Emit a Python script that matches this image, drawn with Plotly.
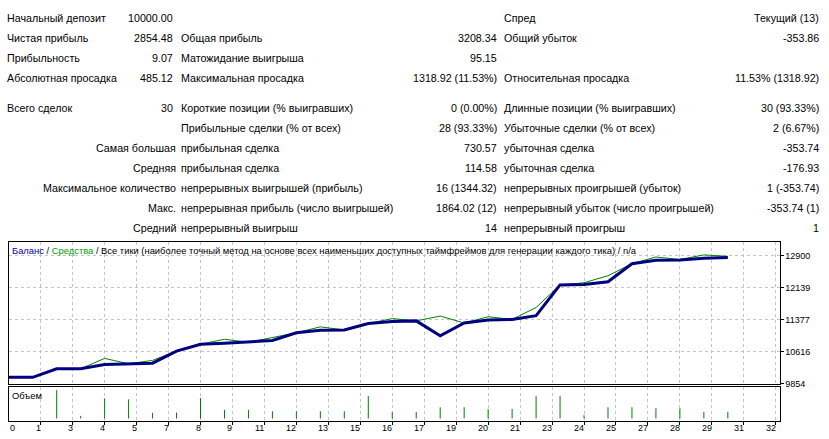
import plotly.graph_objects as go

W, H = 829, 439

# ---------------- data ----------------
trade_no = list(range(31))
balance = [10000.00, 9999.88, 10204, 10206, 10307, 10324, 10338, 10626, 10787, 10811,
           10835, 10876, 11061, 11123, 11128, 11282, 11330, 11344.20, 10990.46, 11294,
           11363, 11378, 11469, 12199.57, 12210, 12275, 12705, 12785, 12795, 12835, 12854.48]
equity = [10000.00, 9999.88, 10204, 10206, 10451, 10324, 10403, 10626, 10787, 10907,
          10835, 10943, 11061, 11202, 11128, 11282, 11399, 11344.20, 11459, 11294,
          11442, 11378, 11663, 12199.57, 12251, 12419, 12705, 12864, 12805, 12914, 12880]
vol_trades = list(range(2, 31))
volumes = [0.86, 0.08, 0.61, 0.58, 0.17, 0.18, 0.62, 0.26, 0.26, 0.22, 0.22, 0.22, 0.22,
           0.68, 0.19, 0.20, 0.34, 0.34, 0.29, 0.29, 0.68, 0.68, 0.10, 0.34, 0.34, 0.31,
           0.31, 0.20, 0.20]
x_tick_text = ["0", "1", "3", "4", "5", "7", "8", "9", "11", "12", "13", "15", "16",
               "17", "19", "20", "21", "23", "24", "25", "27", "28", "29", "31", "32"]
y_tick_vals = [9854, 10616, 11377, 12139, 12900]

# statistics table (11 rows)
c1_labels = ["Начальный депозит", "Чистая прибыль", "Прибыльность", "Абсолютная просадка",
             "Всего сделок", None, None, None, None, None, None]
c1_rlabels = [None, None, None, None, None, None, "Самая большая", "Средняя",
              "Максимальное количество", "Макс.", "Средний"]
c1_values = ["10000.00", "2854.48", "9.07", "485.12", "30", None, None, None, None, None, None]
c2_labels = [None, "Общая прибыль", "Матожидание выигрыша", "Максимальная просадка",
             "Короткие позиции (% выигравших)", "Прибыльные сделки (% от всех)",
             "прибыльная сделка", "прибыльная сделка", "непрерывных выигрышей (прибыль)",
             "непрерывная прибыль (число выигрышей)", "непрерывный выигрыш"]
c2_values = [None, "3208.34", "95.15", "1318.92 (11.53%)", "0 (0.00%)", "28 (93.33%)",
             "730.57", "114.58", "16 (1344.32)", "1864.02 (12)", "14"]
c3_labels = ["Спред", "Общий убыток", None, "Относительная просадка",
             "Длинные позиции (% выигравших)", "Убыточные сделки (% от всех)",
             "убыточная сделка", "убыточная сделка", "непрерывных проигрышей (убыток)",
             "непрерывный убыток (число проигрышей)", "непрерывный проигрыш"]
c3_values = ["Текущий (13)", "-353.86", None, "11.53% (1318.92)", "30 (93.33%)", "2 (6.67%)",
             "-353.74", "-176.93", "1 (-353.74)", "-353.74 (1)", "1"]

# ---------------- layout geometry (pixels) ----------------
FONT = "Liberation Sans, Arial, sans-serif"
FS = 10.7        # statistics table
FS_TITLE = 9.4   # chart caption
FS_AX = 9.0      # chart axis labels
row_y = [18.0, 38.0, 58.0, 78.0, 107.5, 127.7, 147.7, 167.7, 187.7, 207.7, 227.7]

def px(x):
    return x / W

def py(y):
    return 1 - y / H

PL, PR = 8.5, 779.5            # plot left/right pixel
MT, MB = 241.5, 383.5          # main panel top/bottom
VT, VB = 386.5, 420.5          # volume panel top/bottom
T0_PX, T_STEP = 8.74, 23.97    # pixel of trade 0, pixels per trade
X0 = (PL - T0_PX) / T_STEP
X1 = (PR - T0_PX) / T_STEP
GRID_Y_PX, GRID_STEP = 255.5, (12900 - 9854) / 4 / 32


def v_at(y):
    return 12900 - (y - GRID_Y_PX) * GRID_STEP

VOL_PX = 33.0
VOL_BASE = 418.5

grid_vals = [k * 4 / 3 for k in range(1, 25)]
label_vals = [k * 4 / 3 for k in range(0, 25)]

GRID = dict(showgrid=True, gridcolor="#c4c4c4", griddash="3px,3px", gridwidth=1)
FRAME = dict(showline=True, mirror=True, linecolor="black", linewidth=1, zeroline=False)

fig = go.Figure()
fig.add_trace(go.Scatter(x=trade_no, y=equity, mode="lines",
                         line=dict(color="#008000", width=1), hoverinfo="skip",
                         xaxis="x", yaxis="y"))
fig.add_trace(go.Scatter(x=trade_no, y=balance, mode="lines",
                         line=dict(color="#000080", width=3), hoverinfo="skip",
                         xaxis="x", yaxis="y"))
vx, vy = [], []
for t, v in zip(vol_trades, volumes):
    vx += [t, t, None]
    vy += [0, v, None]
fig.add_trace(go.Scatter(x=vx, y=vy, mode="lines", line=dict(color="#008000", width=1),
                         hoverinfo="skip", xaxis="x2", yaxis="y2"))

ann = []

def add(text, x, y, anchor, size=FS, color="black"):
    if text is None:
        return
    ann.append(dict(text=text, x=px(x), y=py(y), xref="paper", yref="paper",
                    xanchor=anchor, yanchor="middle", showarrow=False,
                    borderpad=0, borderwidth=0,
                    font=dict(family=FONT, size=size, color=color)))

for i, yy in enumerate(row_y):
    add(c1_labels[i], 7.3, yy, "left")
    add(c1_rlabels[i], 175.7, yy, "right")
    add(c1_values[i], 173.3, yy, "right")
    add(c2_labels[i], 181, yy, "left")
    add(c2_values[i], 496.7, yy, "right")
    add(c3_labels[i], 504.3, yy, "left")
    add(c3_values[i], 819.3, yy, "right")

add('<span style="color:#0000a0">Баланс</span> / <span style="color:#00a000">Средства</span>'
    ' / Все тики (наиболее точный метод на основе всех наименьших доступных таймфреймов'
    ' для генерации каждого тика) / n/a', 12.4, 250.5, "left", size=FS_TITLE)
add("Объем", 12.4, 395.5, "left", size=FS_TITLE)

for i, (v, t) in enumerate(zip(label_vals, x_tick_text)):
    ann.append(dict(text=t, x=v, y=py(428), xref="x2", yref="paper",
                    xanchor="left" if i == 0 else "right", yanchor="middle",
                    xshift=1.5 if i == 0 else 0, showarrow=False,
                    borderpad=0, borderwidth=0,
                    font=dict(family=FONT, size=FS_AX, color="black")))

fig.update_layout(
    width=W, height=H, margin=dict(l=0, r=0, t=0, b=0, autoexpand=False),
    paper_bgcolor="white", plot_bgcolor="white", showlegend=False,
    font=dict(family=FONT, size=FS, color="black"),
    xaxis=dict(domain=[px(PL), px(PR)], range=[X0, X1], anchor="y",
               tickvals=grid_vals, showticklabels=False, ticks="", **GRID, **FRAME),
    yaxis=dict(domain=[py(MB), py(MT)], range=[v_at(MB), v_at(MT)], anchor="x",
               side="right", tickvals=y_tick_vals, ticktext=[str(v) for v in y_tick_vals],
               ticks="outside", ticklen=3, tickcolor="black", automargin=False,
               tickfont=dict(family=FONT, size=FS_AX, color="black"), **GRID, **FRAME),
    xaxis2=dict(domain=[px(PL), px(PR)], range=[X0, X1], anchor="y2",
                tickvals=grid_vals, showticklabels=False, ticks="outside", ticklen=3,
                tickcolor="black", automargin=False, **GRID, **FRAME),
    yaxis2=dict(domain=[py(VB), py(VT)],
                range=[-(VB - VOL_BASE) / VOL_PX, (VOL_BASE - VT) / VOL_PX], anchor="x2",
                showticklabels=False, ticks="", showgrid=False, **FRAME),
    annotations=ann,
)

fig.write_html("out.html",
               post_script="document.body.style.margin='0';"
                           "document.documentElement.style.overflow='hidden';")
